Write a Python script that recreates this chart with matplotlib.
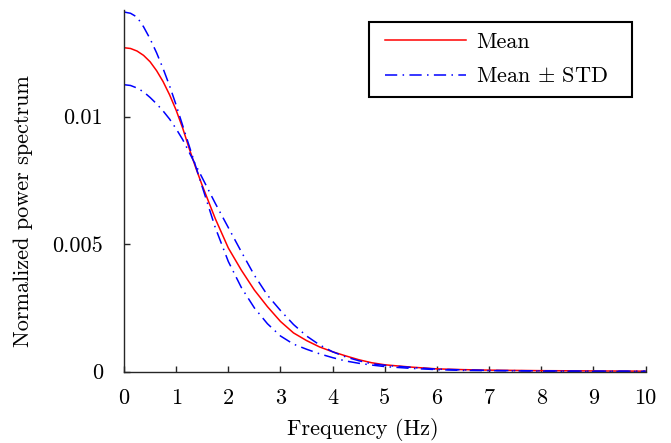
import matplotlib
matplotlib.use("Agg")
import matplotlib.pyplot as plt
from matplotlib.lines import Line2D
from matplotlib.legend_handler import HandlerLine2D

freq = [0, 0.125, 0.25, 0.375, 0.5, 0.625, 0.75, 0.875, 1.0, 1.125, 1.25,
        1.375, 1.5, 1.75, 2.0, 2.25, 2.5, 2.75, 3.0, 3.25, 3.5, 3.75, 4.0,
        4.25, 4.5, 4.75, 5.0, 5.5, 6.0, 6.5, 7.0, 8.0, 9.0, 10.0]
mean = [0.01270, 0.01267, 0.01257, 0.01240, 0.01215, 0.01180, 0.01137,
        0.01085, 0.01025, 0.00955, 0.00875, 0.00800, 0.00730, 0.00600,
        0.00485, 0.00398, 0.00320, 0.00255, 0.00197, 0.00152, 0.00122,
        0.00097, 0.00078, 0.00062, 0.00047, 0.00035, 0.00027, 0.00018,
        0.00011, 0.00008, 0.00006, 0.00004, 0.00003, 0.00002]
std_a = [0.01410, 0.01405, 0.01390, 0.01352, 0.01305, 0.01250, 0.01188,
         0.01120, 0.01045, 0.00965, 0.00885, 0.00805, 0.00725, 0.00565,
         0.00432, 0.00330, 0.00250, 0.00188, 0.00140, 0.00108, 0.00088,
         0.00070, 0.00055, 0.00042, 0.00033, 0.00026, 0.00020, 0.00013,
         0.00008, 0.00005, 0.00004, 0.00002, 0.00001, 0.00001]
std_b = [0.01125, 0.01122, 0.01112, 0.01097, 0.01075, 0.01050, 0.01022,
         0.00990, 0.00952, 0.00910, 0.00860, 0.00810, 0.00760, 0.00660,
         0.00565, 0.00470, 0.00378, 0.00300, 0.00240, 0.00185, 0.00140,
         0.00105, 0.00078, 0.00058, 0.00043, 0.00031, 0.00025, 0.00017,
         0.00010, 0.00007, 0.00005, 0.00003, 0.00002, 0.00002]

xticks = list(range(0, 11))
yticks = [0, 0.005, 0.01]
ytick_labels = ["0", "0.005", "0.01"]

plt.rcParams["font.family"] = "cmr10"
plt.rcParams["mathtext.fontset"] = "cm"
plt.rcParams["axes.unicode_minus"] = False

fig = plt.figure(figsize=(6.71, 4.43), dpi=100)
ax = fig.add_axes([0.1848, 0.161, 0.7772, 0.8165])

ax.plot(freq, mean, color="red", lw=1.1, label="Mean")
ax.plot(freq, std_a, color="blue", lw=1.1, dashes=(8, 3.5, 1, 3.5),
        label=r"Mean $\pm$ STD")
ax.plot(freq, std_b, color="blue", lw=1.1, dashes=(8, 3.5, 1, 3.5))

ax.set_xlim(0, 10)
ax.set_ylim(0, 0.01418)
ax.set_xticks(xticks)
ax.set_xticklabels([str(t) for t in xticks])
ax.set_yticks(yticks)
ax.set_yticklabels(ytick_labels)

for s in ["top", "right"]:
    ax.spines[s].set_visible(False)
for s in ["left", "bottom"]:
    ax.spines[s].set_color("#262626")
    ax.spines[s].set_linewidth(1.0)

ax.tick_params(direction="in", length=4, width=1.0, color="#262626",
               labelsize=16)
ax.tick_params(axis="x", pad=12)
ax.tick_params(axis="y", pad=15)

ax.set_xlabel("Frequency (Hz)", fontsize=16)
ax.set_ylabel("Normalized power spectrum", fontsize=16)
ax.xaxis.set_label_coords(0.458, -0.128)
ax.yaxis.set_label_coords(-0.1737, 0.444)

# legend box stretched to the reference width
leg = ax.legend(loc="upper left", bbox_to_anchor=(0.4698, 0.6655, 0.5043, 0.3),
                mode="expand", borderaxespad=0, fancybox=False, framealpha=1,
                edgecolor="black", fontsize=16, handlelength=3.91,
                borderpad=0.46, labelspacing=0.66, handletextpad=0.45,
                handler_map={Line2D: HandlerLine2D(xpad=0.27)})
leg.get_frame().set_linewidth(1.5)

fig.savefig("out.png", dpi=100)
